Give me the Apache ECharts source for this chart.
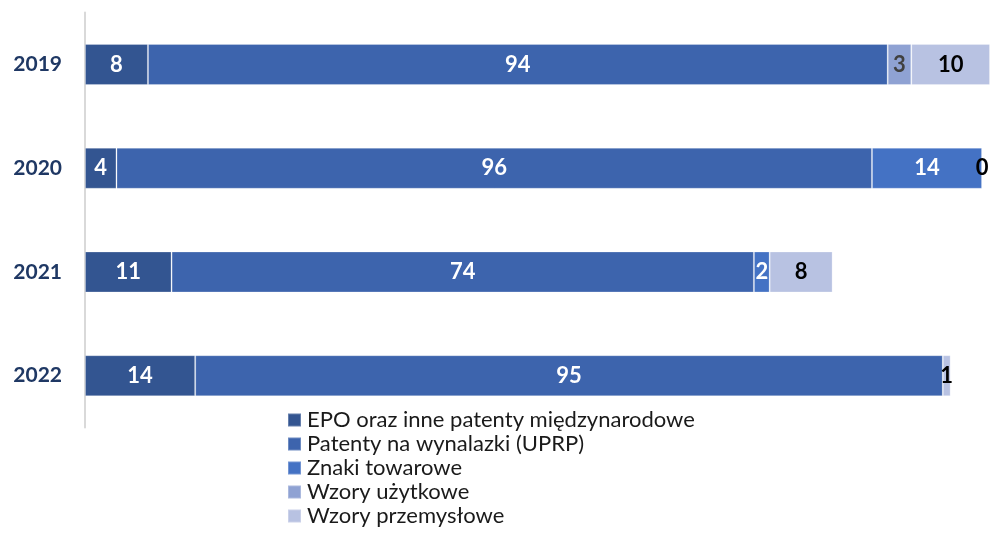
<!DOCTYPE html>
<html><head><meta charset="utf-8">
<script src="https://cdn.jsdelivr.net/npm/echarts@6/dist/echarts.min.js"></script>
<style>html,body{margin:0;padding:0;background:#fff}#c{width:990px;height:534px}</style>
</head><body><div id="c"></div>
<script>
var years = ['2019', '2020', '2021', '2022'];
var seriesNames = ['EPO oraz inne patenty międzynarodowe', 'Patenty na wynalazki (UPRP)', 'Znaki towarowe', 'Wzory użytkowe', 'Wzory przemysłowe'];
var epo = [8, 4, 11, 14];
var patenty = [94, 96, 74, 95];
var znaki = [null, 14, 2, null];
var uzytkowe = [3, null, null, null];
var przemyslowe = [10, 0, 8, 1];

var colors = ['#335591', '#3D64AD', '#4472C4', '#8FA2D3', '#B8C2E2'];
var labelColors = ['#ffffff', '#ffffff', '#ffffff', '#404040', '#000000'];
var dataSets = [epo, patenty, znaki, uzytkowe, przemyslowe];
var FONT = 'Lato';

var series = dataSets.map(function (d, i) {
  return {
    name: seriesNames[i], type: 'bar', stack: 'total', barWidth: 41,
    data: d.map(function (v) { return v === null ? '-' : v; }),
    itemStyle: { color: colors[i], borderColor: 'rgba(255,255,255,0.25)', borderWidth: 1 },
    label: { show: true, position: 'inside', color: labelColors[i], fontFamily: FONT, fontWeight: 'bold', fontSize: 22 },
    emphasis: { disabled: true }
  };
});

var chart = echarts.init(document.getElementById('c'), null, { renderer: 'canvas' });
chart.setOption({
  animation: false,
  textStyle: { fontFamily: FONT },
  grid: { left: 85, right: 0, top: 12.6, height: 415 },
  xAxis: { type: 'value', min: 0, max: 115, show: false },
  yAxis: {
    type: 'category', data: years, inverse: true,
    axisLine: { show: true, lineStyle: { color: '#D9D9D9', width: 2 } },
    axisTick: { show: false },
    axisLabel: { margin: 23, color: '#1F3864', fontFamily: FONT, fontWeight: 'bold', fontSize: 21 }
  },
  legend: {
    orient: 'vertical', left: 287, top: 408, height: 200, padding: 0,
    itemWidth: 13, itemHeight: 13, itemGap: 0,
    icon: 'rect', textStyle: { fontFamily: FONT, fontSize: 22, lineHeight: 24, color: '#1a1a1a', padding: [0, 0, 0, 1] },
    data: seriesNames
  },
  series: series
});
</script></body></html>
